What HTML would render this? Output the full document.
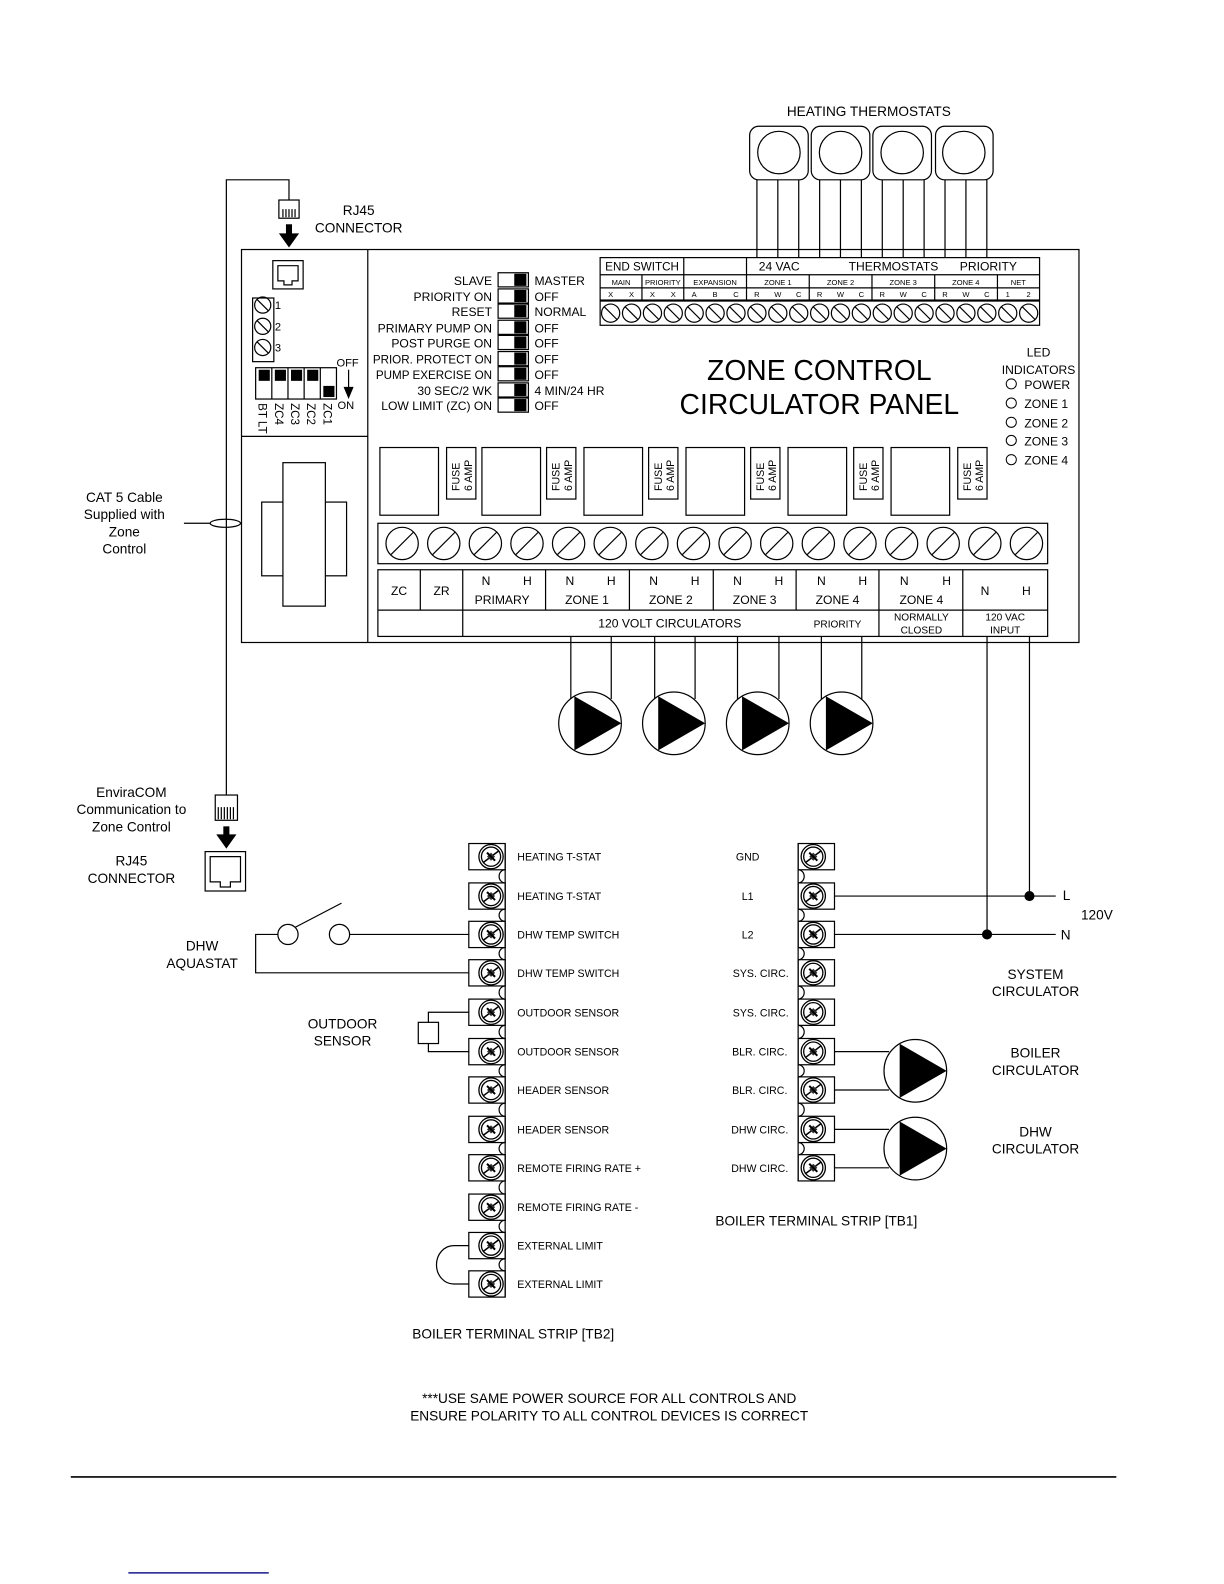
<!DOCTYPE html>
<html><head><meta charset="utf-8"><style>
html,body{margin:0;padding:0;background:#fff}
svg{display:block}
text{font-family:"Liberation Sans",Arial,sans-serif;fill:#000}
</style></head><body>
<svg width="1224" height="1584" viewBox="0 0 1211.5 1568" xmlns="http://www.w3.org/2000/svg">
<defs>
<g id="sc"><circle r="9" fill="#fff" stroke="#000" stroke-width="1.2"/><line x1="-6.4" y1="-6.4" x2="6.4" y2="6.4" stroke="#000" stroke-width="1.2"/></g>
<g id="bs"><circle r="16" fill="#fff" stroke="#000" stroke-width="1.2"/><line x1="-11" y1="11" x2="11" y2="-11" stroke="#000" stroke-width="1.2"/></g>
<g id="ts"><circle r="12" fill="#fff" stroke="#000" stroke-width="1.3"/><circle r="9.5" fill="none" stroke="#000" stroke-width="1.3"/><line x1="-8" y1="6" x2="8" y2="-6" stroke="#000" stroke-width="1.5"/><path d="M-4,0 L0,-4 L4,0 L0,4Z" fill="#333"/><line x1="-4" y1="-4" x2="4" y2="4" stroke="#000" stroke-width="2"/></g>
<g id="pump"><circle r="31" fill="#fff" stroke="#000" stroke-width="1.2"/><polygon points="-15.5,-26.8 -15.5,26.8 31,0" fill="#000"/></g>
</defs>
<g stroke="#000" stroke-width="1.2" fill="none">
<rect x="239" y="247" width="829" height="389"/>
<line x1="364" y1="247" x2="364" y2="636"/>
<line x1="239" y1="432" x2="364" y2="432"/>
<polyline points="224,787 224,178 286,178 286,198"/>
<rect x="276" y="198" width="20" height="18" fill="#fff"/>
<line x1="280" y1="207" x2="280" y2="215"/><line x1="283" y1="207" x2="283" y2="215"/><line x1="286" y1="207" x2="286" y2="215"/><line x1="289" y1="207" x2="289" y2="215"/><line x1="292" y1="207" x2="292" y2="215"/>
<line x1="182" y1="518" x2="208" y2="518"/>
<ellipse cx="223" cy="518" rx="15" ry="4"/>
<rect x="270" y="258" width="30" height="28"/>
<path d="M275,263 H295 V278 H289 V282 H281 V278 H275 Z"/>
<rect x="250" y="295" width="21" height="63"/>
<circle cx="260" cy="302" r="8"/><line x1="254.5" y1="296.5" x2="265.5" y2="307.5"/>
<circle cx="260" cy="323" r="8"/><line x1="254.5" y1="317.5" x2="265.5" y2="328.5"/>
<circle cx="260" cy="344" r="8"/><line x1="254.5" y1="338.5" x2="265.5" y2="349.5"/>
<rect x="253" y="364" width="80" height="31"/>
<line x1="269" y1="364" x2="269" y2="395"/><line x1="285" y1="364" x2="285" y2="395"/><line x1="301" y1="364" x2="301" y2="395"/><line x1="317" y1="364" x2="317" y2="395"/>
<line x1="345" y1="366" x2="345" y2="384"/>
<rect x="259" y="497" width="84" height="73"/>
<rect x="280" y="458" width="42" height="142" fill="#fff"/>
<rect x="493" y="270" width="30" height="14"/><rect x="493" y="286" width="30" height="14"/><rect x="493" y="301" width="30" height="14"/><rect x="493" y="317" width="30" height="14"/><rect x="493" y="332" width="30" height="14"/><rect x="493" y="348" width="30" height="14"/><rect x="493" y="363" width="30" height="14"/><rect x="493" y="379" width="30" height="14"/><rect x="493" y="394" width="30" height="14"/>
<rect x="742" y="125" width="58" height="53" rx="9"/><circle cx="771" cy="151" r="21"/>
<rect x="803" y="125" width="58" height="53" rx="9"/><circle cx="832" cy="151" r="21"/>
<rect x="864" y="125" width="58" height="53" rx="9"/><circle cx="893" cy="151" r="21"/>
<rect x="926" y="125" width="57" height="53" rx="9"/><circle cx="954" cy="151" r="21"/>
<path d="M749.2,178V255M769.9,178V255M790.6,178V255M811.3,178V255M831.9,178V255M852.6,178V255M873.3,178V255M894,178V255M914.7,178V255M935.4,178V255M956.1,178V255M976.8,178V255"/>
<rect x="594" y="255" width="435" height="42"/>
<line x1="594" y1="272" x2="1029" y2="272"/><line x1="594" y1="285" x2="1029" y2="285"/>
<path d="M676.8,255V297M738.9,255V297M635.4,272V297M801,272V297M863.1,272V297M925.2,272V297M987.3,272V297"/>
<rect x="594" y="298" width="435" height="24"/>
<rect x="376" y="443" width="58" height="67"/>
<rect x="477" y="443" width="58" height="67"/><rect x="541" y="443" width="29" height="51"/>
<rect x="578" y="443" width="58" height="67"/><rect x="642" y="443" width="29" height="51"/>
<rect x="679" y="443" width="58" height="67"/><rect x="743" y="443" width="29" height="51"/>
<rect x="780" y="443" width="58" height="67"/><rect x="845" y="443" width="29" height="51"/>
<rect x="882" y="443" width="58" height="67"/><rect x="948" y="443" width="29" height="51"/>
<rect x="442" y="443" width="29" height="51"/>
<rect x="374" y="518" width="663" height="40"/>
<rect x="374" y="564" width="663" height="66"/>
<line x1="374" y1="604" x2="1037" y2="604"/>
<path d="M416,564V604M458,564V630M540,564V604M623,564V604M706,564V604M788,564V604M870,564V630M953,564V630"/>
<path d="M565,630V692M605,630V692M648,630V692M688,630V692M730,630V692M771,630V692M813,630V692M853,630V692"/>
<path d="M977,630V925M1019,630V887"/>
<rect x="213" y="787" width="22" height="25" fill="#fff"/>
<path d="M216,799V811M219,799V811M222,799V811M225,799V811M228,799V811M231,799V811"/>
<rect x="203" y="843" width="40" height="39"/>
<path d="M208,848 H238 V873 H228 V878 H218 V873 H208 Z"/>
<circle cx="285" cy="925" r="10"/><circle cx="336" cy="925" r="10"/>
<line x1="292" y1="918" x2="338" y2="894"/>
<path d="M346,925H464M275,925H253V963H464"/>
<rect x="414" y="1012" width="20" height="21"/>
<path d="M424,1012V1002H464M424,1033V1041H464"/>
<path d="M464,1233H449A17,19 0 0 0 449,1271H464"/>
<path d="M826,887H1045M826,925H1045"/>
<path d="M826,1041H880M826,1079H880M826,1118H880M826,1156H880"/>
<line x1="500" y1="835" x2="500" y2="1284"/>
<rect x="464" y="835" width="36" height="26"/><rect x="464" y="874" width="36" height="26"/><rect x="464" y="912" width="36" height="26"/><rect x="464" y="950" width="36" height="26"/><rect x="464" y="989" width="36" height="26"/><rect x="464" y="1028" width="36" height="26"/><rect x="464" y="1066" width="36" height="26"/><rect x="464" y="1105" width="36" height="26"/><rect x="464" y="1143" width="36" height="26"/><rect x="464" y="1182" width="36" height="26"/><rect x="464" y="1220" width="36" height="26"/><rect x="464" y="1258" width="36" height="26"/>
<path d="M500,861a6,6.5 0 0 0 0,13M500,900a6,6 0 0 0 0,12M500,938a6,6 0 0 0 0,12M500,976a6,6.5 0 0 0 0,13M500,1015a6,6.5 0 0 0 0,13M500,1054a6,6 0 0 0 0,12M500,1092a6,6.5 0 0 0 0,13M500,1131a6,6 0 0 0 0,12M500,1169a6,6.5 0 0 0 0,13M500,1208a6,6 0 0 0 0,12M500,1246a6,6 0 0 0 0,12"/>
<line x1="790" y1="835" x2="790" y2="1169"/>
<rect x="790" y="835" width="36" height="26"/><rect x="790" y="874" width="36" height="26"/><rect x="790" y="912" width="36" height="26"/><rect x="790" y="950" width="36" height="26"/><rect x="790" y="989" width="36" height="26"/><rect x="790" y="1028" width="36" height="26"/><rect x="790" y="1066" width="36" height="26"/><rect x="790" y="1105" width="36" height="26"/><rect x="790" y="1143" width="36" height="26"/>
<path d="M790,861a6,6.5 0 0 1 0,13M790,900a6,6 0 0 1 0,12M790,938a6,6 0 0 1 0,12M790,976a6,6.5 0 0 1 0,13M790,1015a6,6.5 0 0 1 0,13M790,1054a6,6 0 0 1 0,12M790,1092a6,6.5 0 0 1 0,13M790,1131a6,6 0 0 1 0,12"/>
<line x1="70" y1="1462" x2="1105" y2="1462" stroke-width="1.6"/>
</g>
<line x1="127" y1="1557" x2="266" y2="1557" stroke="#1a1a8c" stroke-width="1.5"/>
<rect x="283" y="222" width="6" height="10"/><polygon points="276,231 296,231 286,245"/>
<rect x="221" y="818" width="6" height="9"/><polygon points="214,826 234,826 224,840"/>
<polygon points="340,383 350,383 345,395"/>
<rect x="256" y="366" width="11" height="11"/><rect x="272" y="366" width="11" height="11"/><rect x="288" y="366" width="11" height="11"/><rect x="304" y="366" width="11" height="11"/><rect x="320" y="382" width="11" height="11"/>
<rect x="509" y="271" width="12" height="12"/><rect x="509" y="287" width="12" height="12"/><rect x="509" y="302" width="12" height="12"/><rect x="509" y="318" width="12" height="12"/><rect x="509" y="333" width="12" height="12"/><rect x="509" y="349" width="12" height="12"/><rect x="509" y="364" width="12" height="12"/><rect x="509" y="380" width="12" height="12"/><rect x="509" y="395" width="12" height="12"/>
<use href="#sc" x="604.4" y="310"/><use href="#sc" x="625.1" y="310"/><use href="#sc" x="645.8" y="310"/><use href="#sc" x="666.4" y="310"/><use href="#sc" x="687.1" y="310"/><use href="#sc" x="707.8" y="310"/><use href="#sc" x="728.5" y="310"/><use href="#sc" x="749.2" y="310"/><use href="#sc" x="769.9" y="310"/><use href="#sc" x="790.6" y="310"/><use href="#sc" x="811.3" y="310"/><use href="#sc" x="831.9" y="310"/><use href="#sc" x="852.6" y="310"/><use href="#sc" x="873.3" y="310"/><use href="#sc" x="894" y="310"/><use href="#sc" x="914.7" y="310"/><use href="#sc" x="935.4" y="310"/><use href="#sc" x="956.1" y="310"/><use href="#sc" x="976.8" y="310"/><use href="#sc" x="997.5" y="310"/><use href="#sc" x="1018.2" y="310"/>
<use href="#bs" x="398" y="538"/><use href="#bs" x="439.2" y="538"/><use href="#bs" x="480.4" y="538"/><use href="#bs" x="521.6" y="538"/><use href="#bs" x="562.8" y="538"/><use href="#bs" x="604" y="538"/><use href="#bs" x="645.2" y="538"/><use href="#bs" x="686.4" y="538"/><use href="#bs" x="727.6" y="538"/><use href="#bs" x="768.8" y="538"/><use href="#bs" x="810" y="538"/><use href="#bs" x="851.2" y="538"/><use href="#bs" x="892.4" y="538"/><use href="#bs" x="933.6" y="538"/><use href="#bs" x="974.8" y="538"/><use href="#bs" x="1016" y="538"/>
<use href="#ts" x="486" y="848"/><use href="#ts" x="486" y="887"/><use href="#ts" x="486" y="925"/><use href="#ts" x="486" y="963"/><use href="#ts" x="486" y="1002"/><use href="#ts" x="486" y="1041"/><use href="#ts" x="486" y="1079"/><use href="#ts" x="486" y="1118"/><use href="#ts" x="486" y="1156"/><use href="#ts" x="486" y="1195"/><use href="#ts" x="486" y="1233"/><use href="#ts" x="486" y="1271"/>
<use href="#ts" x="805" y="848"/><use href="#ts" x="805" y="887"/><use href="#ts" x="805" y="925"/><use href="#ts" x="805" y="963"/><use href="#ts" x="805" y="1002"/><use href="#ts" x="805" y="1041"/><use href="#ts" x="805" y="1079"/><use href="#ts" x="805" y="1118"/><use href="#ts" x="805" y="1156"/>
<use href="#pump" x="584" y="716"/><use href="#pump" x="667" y="716"/><use href="#pump" x="750" y="716"/><use href="#pump" x="833" y="716"/>
<use href="#pump" x="906" y="1060"/><use href="#pump" x="906" y="1137"/>
<circle cx="1019" cy="887" r="5"/><circle cx="977" cy="925" r="5"/>
<g fill="none" stroke="#000" stroke-width="1"><circle cx="1001" cy="380" r="5"/><circle cx="1001" cy="399" r="5"/><circle cx="1001" cy="418" r="5"/><circle cx="1001" cy="436" r="5"/><circle cx="1001" cy="455" r="5"/></g>

<g font-size="13.5" text-anchor="middle">
<text x="860" y="115">HEATING THERMOSTATS</text>
<text x="355" y="213">RJ45</text><text x="355" y="230">CONNECTOR</text>
<text x="123" y="497">CAT 5 Cable</text><text x="123" y="514">Supplied with</text><text x="123" y="531">Zone</text><text x="123" y="548">Control</text>
<text x="130" y="789">EnviraCOM</text><text x="130" y="806">Communication to</text><text x="130" y="823">Zone Control</text>
<text x="130" y="857">RJ45</text><text x="130" y="874">CONNECTOR</text>
<text x="200" y="941">DHW</text><text x="200" y="958">AQUASTAT</text>
<text x="339" y="1018">OUTDOOR</text><text x="339" y="1035">SENSOR</text>
<text x="1025" y="969">SYSTEM</text><text x="1025" y="986">CIRCULATOR</text>
<text x="1025" y="1047">BOILER</text><text x="1025" y="1064">CIRCULATOR</text>
<text x="1025" y="1125">DHW</text><text x="1025" y="1142">CIRCULATOR</text>
<text x="508" y="1325">BOILER TERMINAL STRIP [TB2]</text>
<text x="808" y="1213">BOILER TERMINAL STRIP [TB1]</text>
<text x="603" y="1389">***USE SAME POWER SOURCE FOR ALL CONTROLS AND</text>
<text x="603" y="1406">ENSURE POLARITY TO ALL CONTROL DEVICES IS CORRECT</text>
</g>
<g font-size="13.5"><text x="1052" y="891">L</text><text x="1050" y="930">N</text><text x="1070" y="910">120V</text></g>
<g font-size="28" text-anchor="middle"><text x="811" y="376">ZONE CONTROL</text><text x="811" y="410">CIRCULATOR PANEL</text></g>
<g font-size="12"><text x="1028" y="353" text-anchor="middle">LED</text><text x="1028" y="370" text-anchor="middle">INDICATORS</text>
<text x="1014" y="385">POWER</text><text x="1014" y="404">ZONE 1</text><text x="1014" y="423">ZONE 2</text><text x="1014" y="441">ZONE 3</text><text x="1014" y="460">ZONE 4</text></g>
<g font-size="11"><text x="272" y="306">1</text><text x="272" y="327">2</text><text x="272" y="348">3</text>
<text x="333" y="363">OFF</text><text x="334" y="405">ON</text></g>
<g font-size="11.5">
<text transform="translate(256,399) rotate(90)">BT LT</text><text transform="translate(272,399) rotate(90)">ZC4</text><text transform="translate(288,399) rotate(90)">ZC3</text><text transform="translate(304,399) rotate(90)">ZC2</text><text transform="translate(320,399) rotate(90)">ZC1</text>
</g>
<g font-size="12" text-anchor="end">
<text x="487" y="282">SLAVE</text><text x="487" y="298">PRIORITY ON</text><text x="487" y="313">RESET</text><text x="487" y="329">PRIMARY PUMP ON</text><text x="487" y="344">POST PURGE ON</text><text x="487" y="360" textLength="118" lengthAdjust="spacingAndGlyphs">PRIOR. PROTECT ON</text><text x="487" y="375" textLength="115" lengthAdjust="spacingAndGlyphs">PUMP EXERCISE ON</text><text x="487" y="391">30 SEC/2 WK</text><text x="487" y="406">LOW LIMIT  (ZC) ON</text>
</g>
<g font-size="12">
<text x="529" y="282">MASTER</text><text x="529" y="298">OFF</text><text x="529" y="313">NORMAL</text><text x="529" y="329">OFF</text><text x="529" y="344">OFF</text><text x="529" y="360">OFF</text><text x="529" y="375">OFF</text><text x="529" y="391">4 MIN/24 HR</text><text x="529" y="406">OFF</text>
<text x="599" y="268" textLength="73" lengthAdjust="spacingAndGlyphs">END SWITCH</text><text x="751" y="268">24 VAC</text><text x="840" y="268">THERMOSTATS</text><text x="950" y="268">PRIORITY</text>
</g>
<g font-size="7.5" text-anchor="middle">
<text x="614.7" y="282">MAIN</text><text x="656.1" y="282">PRIORITY</text><text x="707.8" y="282">EXPANSION</text><text x="770" y="282">ZONE 1</text><text x="832" y="282">ZONE 2</text><text x="894" y="282">ZONE 3</text><text x="956" y="282">ZONE 4</text><text x="1008" y="282">NET</text>
<text x="604.4" y="294">X</text><text x="625.1" y="294">X</text><text x="645.8" y="294">X</text><text x="666.4" y="294">X</text><text x="687.1" y="294">A</text><text x="707.8" y="294">B</text><text x="728.5" y="294">C</text><text x="749.2" y="294">R</text><text x="769.9" y="294">W</text><text x="790.6" y="294">C</text><text x="811.3" y="294">R</text><text x="831.9" y="294">W</text><text x="852.6" y="294">C</text><text x="873.3" y="294">R</text><text x="894" y="294">W</text><text x="914.7" y="294">C</text><text x="935.4" y="294">R</text><text x="956.1" y="294">W</text><text x="976.8" y="294">C</text><text x="997.5" y="294">1</text><text x="1018.2" y="294">2</text>
</g>
<g font-size="10.5">
<text transform="translate(455,486) rotate(-90)">FUSE</text><text transform="translate(467,486) rotate(-90)">6 AMP</text>
<text transform="translate(554,486) rotate(-90)">FUSE</text><text transform="translate(566,486) rotate(-90)">6 AMP</text>
<text transform="translate(655,486) rotate(-90)">FUSE</text><text transform="translate(667,486) rotate(-90)">6 AMP</text>
<text transform="translate(756,486) rotate(-90)">FUSE</text><text transform="translate(768,486) rotate(-90)">6 AMP</text>
<text transform="translate(858,486) rotate(-90)">FUSE</text><text transform="translate(870,486) rotate(-90)">6 AMP</text>
<text transform="translate(961,486) rotate(-90)">FUSE</text><text transform="translate(973,486) rotate(-90)">6 AMP</text>
</g>
<g font-size="12" text-anchor="middle">
<text x="395" y="589">ZC</text><text x="437" y="589">ZR</text>
<text x="481" y="579">N</text><text x="522" y="579">H</text><text x="497" y="598">PRIMARY</text>
<text x="564" y="579">N</text><text x="605" y="579">H</text><text x="581" y="598">ZONE 1</text>
<text x="647" y="579">N</text><text x="688" y="579">H</text><text x="664" y="598">ZONE 2</text>
<text x="730" y="579">N</text><text x="771" y="579">H</text><text x="747" y="598">ZONE 3</text>
<text x="813" y="579">N</text><text x="854" y="579">H</text><text x="829" y="598">ZONE 4</text>
<text x="895" y="579">N</text><text x="937" y="579">H</text><text x="912" y="598">ZONE 4</text>
<text x="975" y="589">N</text><text x="1016" y="589">H</text>
<text x="663" y="621">120 VOLT CIRCULATORS</text>
</g>
<g font-size="10" text-anchor="middle"><text x="829" y="621">PRIORITY</text><text x="912" y="614">NORMALLY</text><text x="912" y="627">CLOSED</text><text x="995" y="614">120 VAC</text><text x="995" y="627">INPUT</text></g>
<g font-size="10.5">
<text x="512" y="852">HEATING T-STAT</text><text x="512" y="891">HEATING T-STAT</text><text x="512" y="929">DHW TEMP SWITCH</text><text x="512" y="967">DHW TEMP SWITCH</text><text x="512" y="1006">OUTDOOR SENSOR</text><text x="512" y="1045">OUTDOOR SENSOR</text><text x="512" y="1083">HEADER SENSOR</text><text x="512" y="1122">HEADER SENSOR</text><text x="512" y="1160">REMOTE FIRING RATE +</text><text x="512" y="1199">REMOTE FIRING RATE -</text><text x="512" y="1237">EXTERNAL LIMIT</text><text x="512" y="1275">EXTERNAL LIMIT</text>
</g>
<g font-size="10.5" text-anchor="middle">
<text x="740" y="852">GND</text><text x="740" y="891">L1</text><text x="740" y="929">L2</text><text x="753" y="967">SYS. CIRC.</text><text x="753" y="1006">SYS. CIRC.</text><text x="752" y="1045">BLR. CIRC.</text><text x="752" y="1083">BLR. CIRC.</text><text x="752" y="1122">DHW CIRC.</text><text x="752" y="1160">DHW CIRC.</text>
</g>
</svg>
</body></html>
